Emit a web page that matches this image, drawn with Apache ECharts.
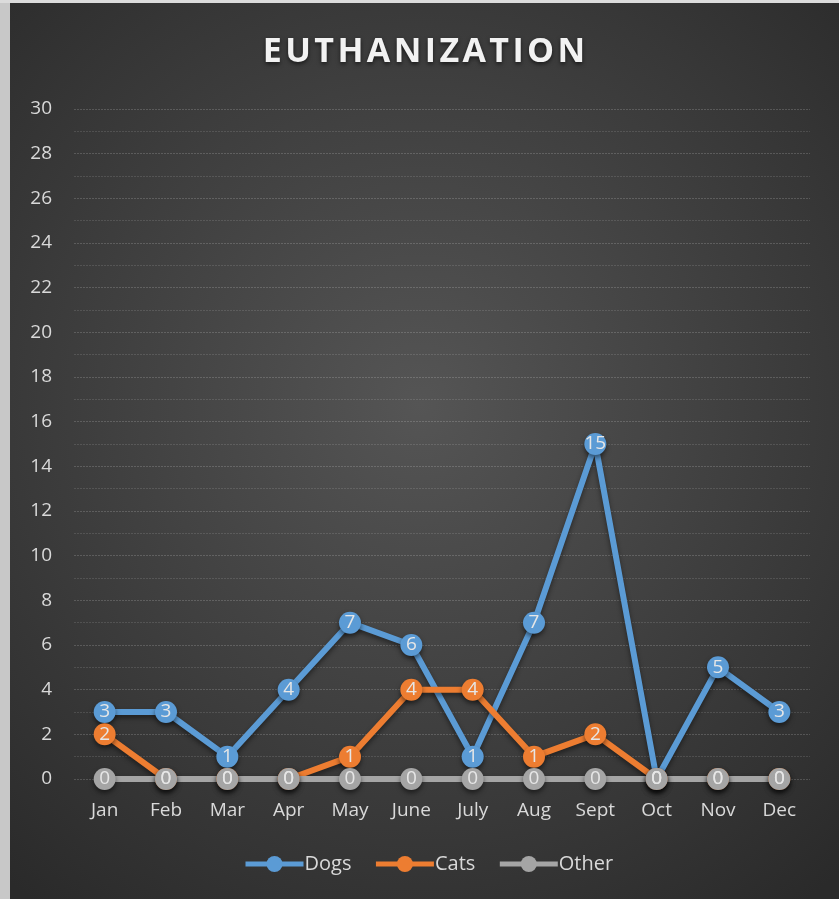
<!DOCTYPE html>
<html>
<head>
<meta charset="utf-8">
<script src="https://cdn.jsdelivr.net/npm/echarts@6/dist/echarts.min.js"></script>
<style>
  html, body { margin: 0; padding: 0; background: #c8c8c8; }
  #chart { width: 839px; height: 899px; }
</style>
</head>
<body>
<div id="chart"></div>
<script>
const months = ["Jan", "Feb", "Mar", "Apr", "May", "June", "July", "Aug", "Sept", "Oct", "Nov", "Dec"];
const dogs = [3, 3, 1, 4, 7, 6, 1, 7, 15, 0, 5, 3];
const cats = [2, 0, 0, 0, 1, 4, 4, 1, 2, 0, 0, 0];
const other = [0, 0, 0, 0, 0, 0, 0, 0, 0, 0, 0, 0];

const chart = echarts.init(document.getElementById("chart"));

function line(name, data, color) {
  return {
    name: name,
    type: "line",
    data: data,
    symbol: "circle",
    symbolSize: 22,
    itemStyle: { color: color, shadowColor: "rgba(0,0,0,0.5)", shadowBlur: 5, shadowOffsetY: 3 },
    lineStyle: { width: 6, color: color, shadowColor: "rgba(0,0,0,0.45)", shadowBlur: 5, shadowOffsetY: 3 },
    label: {
      show: true,
      position: "inside",
      color: "#e6e6e6",
      fontSize: 19,
      fontFamily: "Open Sans"
    }
  };
}

// title letters spaced out with hair spaces, like the original
const title = "EUTHANIZATION".split("").join("\u200A");

chart.setOption({
  backgroundColor: {
    type: "radial", x: 0.5, y: 0.45, r: 0.75,
    colorStops: [{ offset: 0, color: "#555555" }, { offset: 1, color: "#2a2a2a" }]
  },
  graphic: [
    { type: "rect", shape: { x: 0, y: 0, width: 10, height: 899 }, style: { fill: "#c8c8c8" } },
    { type: "rect", shape: { x: 0, y: 0, width: 839, height: 3 }, style: { fill: "#dcdcdc" } }
  ],
  title: {
    text: title,
    left: 419,
    textAlign: "center",
    top: 30,
    textStyle: {
      color: "#f2f2f2",
      fontSize: 34,
      fontWeight: "bold",
      fontFamily: "Open Sans",
      textShadowColor: "rgba(0,0,0,0.6)",
      textShadowBlur: 4,
      textShadowOffsetY: 2
    }
  },
  legend: {
    bottom: 20,
    left: 238,
    itemWidth: 58,
    itemHeight: 20,
    itemGap: 22,
    lineStyle: { width: 5 },
    textStyle: { color: "#d9d9d9", fontSize: 20, fontFamily: "Open Sans", padding: [0, 0, 0, -4] }
  },
  grid: { left: 74, right: 29, top: 109, bottom: 120, containLabel: false },
  xAxis: {
    type: "category",
    data: months,
    boundaryGap: true,
    axisLine: { show: false },
    axisTick: { show: false },
    axisLabel: { color: "#d9d9d9", fontSize: 19, fontFamily: "Open Sans", margin: 22 }
  },
  yAxis: {
    type: "value",
    min: 0,
    max: 30,
    interval: 2,
    axisLine: { show: false },
    axisTick: { show: false },
    axisLabel: { color: "#d9d9d9", fontSize: 19, fontFamily: "Open Sans", margin: 22 },
    splitLine: { lineStyle: { color: "rgba(255,255,255,0.17)", width: 1, type: [2, 1] } },
    minorTick: { show: false, splitNumber: 2 },
    minorSplitLine: { show: true, lineStyle: { color: "rgba(255,255,255,0.12)", width: 1, type: [2, 1] } }
  },
  series: [
    line("Dogs", dogs, "#5b9bd5"),
    line("Cats", cats, "#ed7d31"),
    line("Other", other, "#a5a5a5")
  ]
});
</script>
</body>
</html>
